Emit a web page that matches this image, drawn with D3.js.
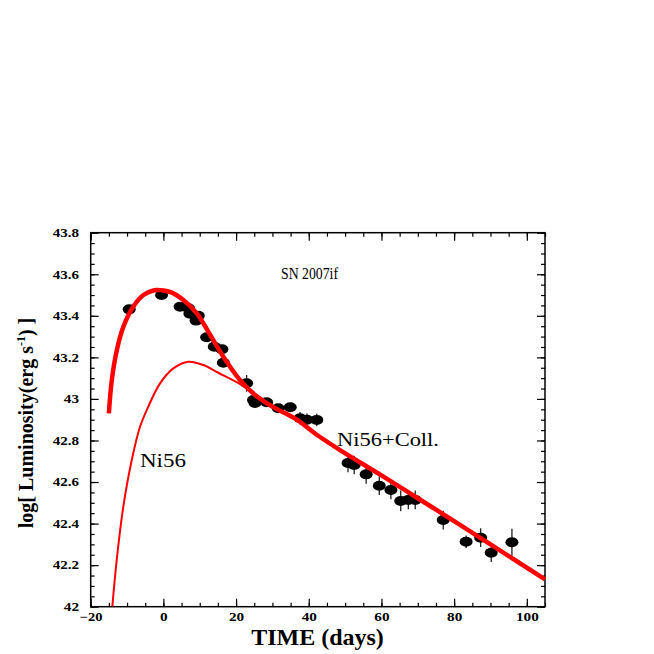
<!DOCTYPE html>
<meta charset="utf-8">
<script src="https://d3js.org/d3.v7.min.js"></script>
<style>
  body { margin: 0; background: #fff; }
  .axis text { font-family: "Liberation Serif", "Times New Roman", serif; font-weight: bold; font-size: 12px; fill: #000; }
  .axis line { stroke: #000; stroke-width: 1.2; }
  .lbl { font-family: "Liberation Serif", "Times New Roman", serif; fill: #000; }
</style>
<body>
<div id="chart"></div>
<script>
  // observed points (days, log L, error)
  var obsDays = [-9.4, -0.5, 4.6, 6.9, 7.3, 9.6, 9.0, 11.9, 14.0, 16.1, 16.5,
                 22.9, 24.8, 25.2, 28.4, 31.6, 34.9, 37.6, 39.5, 42.2,
                 50.8, 52.5, 55.8, 59.4, 62.6, 65.3, 67.4, 69.3,
                 77.0, 83.3, 87.3, 90.2, 95.9];
  var obsLum  = [43.431, 43.50, 43.444, 43.436, 43.41, 43.40, 43.377, 43.297, 43.251, 43.239, 43.174,
                 43.075, 42.995, 42.98, 42.984, 42.955, 42.96, 42.907, 42.90, 42.899,
                 42.692, 42.682, 42.637, 42.582, 42.562, 42.509, 42.514, 42.514,
                 42.417, 42.313, 42.332, 42.26, 42.31];
  var obsErr  = [0.02, 0.01, 0.01, 0.015, 0.015, 0.015, 0.015, 0.015, 0.015, 0.015, 0.015,
                 0.04, 0.02, 0.02, 0.02, 0.02, 0.02, 0.03, 0.03, 0.03,
                 0.045, 0.045, 0.045, 0.045, 0.045, 0.05, 0.045, 0.045,
                 0.045, 0.03, 0.045, 0.045, 0.065];

  // Ni56+Coll. model (thick)
  var fitDays = [-15, -14.2, -12.8, -11, -8.3, -5.5, -2.5, 0, 2, 5.5, 9.2, 12.8, 16.5, 21,
                 25.5, 30, 36.7, 42, 48.6, 60, 70, 80, 90, 105];
  var fitLum  = [42.93, 43.09, 43.236, 43.348, 43.444, 43.50, 43.523, 43.522, 43.514, 43.476,
                 43.412, 43.31, 43.203, 43.092, 43.015, 42.963, 42.90, 42.83, 42.754, 42.632,
                 42.522, 42.412, 42.30, 42.132];

  // Ni56 model (thin)
  var niDays = [-14.05, -12.84, -11.03, -8.7, -6.43, -4.15, -0.92, 2.74, 6.87, 11, 15.1, 22,
                27.5, 31, 36.7, 42, 48.6, 60, 70, 80, 90, 105];
  var niLum  = [42.0, 42.225, 42.481, 42.706, 42.866, 42.963, 43.075, 43.147, 43.179, 43.163,
                43.126, 43.062, 42.995, 42.956, 42.90, 42.83, 42.754, 42.632, 42.522, 42.412,
                42.30, 42.132];

  var xTicks = [-20, 0, 20, 40, 60, 80, 100];
  var yTicks = [42, 42.2, 42.4, 42.6, 42.8, 43, 43.2, 43.4, 43.6, 43.8];
  var yTickLabels = ["42", "42.2", "42.4", "42.6", "42.8", "43", "43.2", "43.4", "43.6", "43.8"];

  var margin = {top: 232.7, left: 90.7},
      width = 454.3, height = 374;

  var svg = d3.select("#chart").append("svg")
      .attr("width", 654).attr("height", 654);
  var g = svg.append("g")
      .attr("transform", "translate(" + margin.left + "," + margin.top + ")");

  var x = d3.scaleLinear().domain([-20, 105]).range([0, width]);
  var y = d3.scaleLinear().domain([42, 43.8]).range([height, 0]);

  g.append("clipPath").attr("id", "clip")
    .append("rect").attr("width", width).attr("height", height);

  // minor ticks on all sides
  var xMinor = d3.range(-20, 105.01, 5), yMinor = d3.range(42, 43.801, 0.05);
  function minor(ax, t) {
      var a = g.append("g").attr("class", "axis").attr("transform", t)
        .call(ax.tickSize(-4).tickSizeOuter(0).tickFormat(""));
      a.select(".domain").remove();
  }
  minor(d3.axisBottom(x).tickValues(xMinor), "translate(0," + height + ")");
  minor(d3.axisTop(x).tickValues(xMinor), "translate(0,0)");
  minor(d3.axisLeft(y).tickValues(yMinor), "translate(0,0)");
  minor(d3.axisRight(y).tickValues(yMinor), "translate(" + width + ",0)");

  // the tick labels in the picture are wide and squat
  function widen(sel) {
      sel.selectAll("text").each(function() {
          var s = d3.select(this).text(), w = 0;
          for (var i = 0; i < s.length; i++)
              w += s[i] == "." ? 3.5 : (s[i] == "-" ? 5 : 7.6);
          d3.select(this).attr("textLength", w).attr("lengthAdjust", "spacingAndGlyphs");
      });
  }

  // major ticks
  g.append("g").attr("class", "axis").attr("transform", "translate(0," + height + ")")
    .call(d3.axisBottom(x).tickValues(xTicks).tickSize(-8).tickSizeOuter(0).tickPadding(6))
    .call(widen);
  g.append("g").attr("class", "axis")
    .call(d3.axisLeft(y).tickValues(yTicks).tickSize(-8).tickSizeOuter(0).tickPadding(11.7)
          .tickFormat(function(d, i) { return yTickLabels[i]; }))
    .call(widen);
  g.append("g").attr("class", "axis")
    .call(d3.axisTop(x).tickValues(xTicks).tickSize(-8).tickSizeOuter(0).tickFormat(""));
  g.append("g").attr("class", "axis").attr("transform", "translate(" + width + ",0)")
    .call(d3.axisRight(y).tickValues(yTicks).tickSize(-8).tickSizeOuter(0).tickFormat(""));
  g.selectAll(".domain").remove();

  g.append("rect")
    .attr("width", width).attr("height", height)
    .style("fill", "none").style("stroke", "#000").style("stroke-width", 1.5);

  // observations
  var obs = obsDays.map(function(d, i) { return {t: d, l: obsLum[i], e: obsErr[i]}; });
  var pts = g.append("g").selectAll("g").data(obs).enter().append("g");
  pts.append("line")
    .attr("x1", function(d) { return x(d.t); })
    .attr("x2", function(d) { return x(d.t); })
    .attr("y1", function(d) { return y(d.l - d.e); })
    .attr("y2", function(d) { return y(d.l + d.e); })
    .style("stroke", "#222").style("stroke-width", 1.3);
  pts.append("ellipse")
    .attr("cx", function(d) { return x(d.t); })
    .attr("cy", function(d) { return y(d.l); })
    .attr("rx", 6.5).attr("ry", 5)
    .style("fill", "#000");

  // model curves
  var line = d3.line()
    .x(function(d) { return x(d[0]); })
    .y(function(d) { return y(d[1]); })
    .curve(d3.curveCatmullRom);

  g.append("path")
    .datum(niDays.map(function(d, i) { return [d, niLum[i]]; }))
    .attr("clip-path", "url(#clip)")
    .attr("d", line)
    .style("fill", "none").style("stroke", "#ff0000").style("stroke-width", 2);

  g.append("path")
    .datum(fitDays.map(function(d, i) { return [d, fitLum[i]]; }))
    .attr("d", line)
    .style("fill", "none").style("stroke", "#ff0000").style("stroke-width", 4.5);

  // labels
  svg.append("text").attr("class", "lbl")
    .attr("x", 281).attr("y", 279)
    .attr("textLength", 57).attr("lengthAdjust", "spacingAndGlyphs")
    .style("font-size", "17px").text("SN 2007if");
  svg.append("text").attr("class", "lbl")
    .attr("x", 337).attr("y", 446)
    .attr("textLength", 102).attr("lengthAdjust", "spacingAndGlyphs")
    .style("font-size", "18px").text("Ni56+Coll.");
  svg.append("text").attr("class", "lbl")
    .attr("x", 140).attr("y", 467)
    .attr("textLength", 46).attr("lengthAdjust", "spacingAndGlyphs")
    .style("font-size", "18px").text("Ni56");

  svg.append("text").attr("class", "lbl")
    .attr("x", 317.5).attr("y", 645)
    .attr("text-anchor", "middle")
    .style("font-size", "24px").style("font-weight", "bold")
    .text("TIME (days)");

  var yl = svg.append("text").attr("class", "lbl")
    .attr("transform", "translate(33,423)rotate(-90)")
    .attr("text-anchor", "middle")
    .style("font-size", "20px").style("font-weight", "bold");
  yl.append("tspan").text("log[ Luminosity(erg s");
  yl.append("tspan").attr("dy", -8).style("font-size", "12px").text("-1");
  yl.append("tspan").attr("dy", 8).text(") ]");
</script>
</body>
